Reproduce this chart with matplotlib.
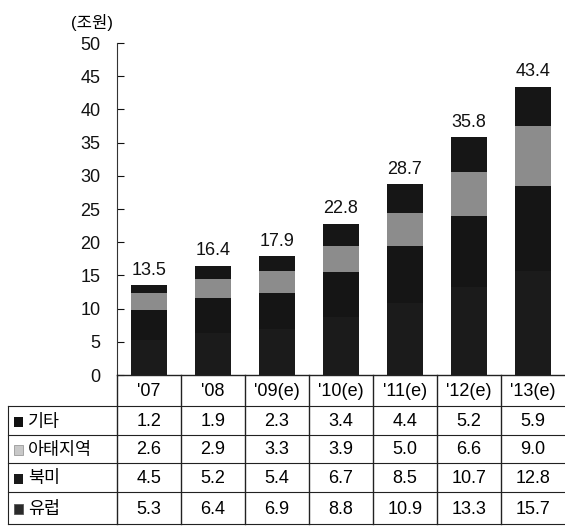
import matplotlib
matplotlib.use("Agg")
import matplotlib.pyplot as plt
from matplotlib.patches import Rectangle

plt.rcParams['font.family'] = ['Liberation Sans', 'Noto Sans CJK KR']

years = ["'07", "'08", "'09(e)", "'10(e)", "'11(e)", "'12(e)", "'13(e)"]
europe = [5.3, 6.4, 6.9, 8.8, 10.9, 13.3, 15.7]
north_america = [4.5, 5.2, 5.4, 6.7, 8.5, 10.7, 12.8]
asia_pacific = [2.6, 2.9, 3.3, 3.9, 5.0, 6.6, 9.0]
others = [1.2, 1.9, 2.3, 3.4, 4.4, 5.2, 5.9]
totals = [13.5, 16.4, 17.9, 22.8, 28.7, 35.8, 43.4]
yticks = [0, 5, 10, 15, 20, 25, 30, 35, 40, 45, 50]

series = [
    ("유럽", europe, "#1b1b1b"),
    ("북미", north_america, "#151515"),
    ("아태지역", asia_pacific, "#8c8c8c"),
    ("기타", others, "#161616"),
]

W, H = 565, 528
fig = plt.figure(figsize=(W / 100, H / 100), dpi=100)

# pixel layout
L, R = 117, 565
y_top, y_zero = 43, 375
ax = fig.add_axes([L / W, 1 - y_zero / H, (R - L) / W, (y_zero - y_top) / H])

x = list(range(len(years)))
bottom = [0.0] * len(years)
for name, vals, col in series:
    ax.bar(x, vals, width=0.55, bottom=bottom, color=col, edgecolor='none', zorder=2)
    bottom = [b + v for b, v in zip(bottom, vals)]

for xi, t in zip(x, totals):
    ax.text(xi, t + 1.0, f"{t:.1f}", ha='center', va='bottom', fontsize=13, color='#111')

ax.set_xlim(-0.5, len(years) - 0.5)
ax.set_ylim(0, 50)
ax.set_yticks(yticks)
ax.set_yticklabels([str(v) for v in yticks], fontsize=13)
ax.tick_params(axis='y', direction='in', length=5, width=0.8, pad=12, colors='#111')
ax.tick_params(axis='x', bottom=False, labelbottom=False)
for s in ['top', 'right']:
    ax.spines[s].set_visible(False)
ax.spines['left'].set_linewidth(0.8)
ax.spines['left'].set_color('#333')
ax.spines['bottom'].set_linewidth(1.0)
ax.spines['bottom'].set_color('#222')
ax.text(-0.056, 1.035, "(조원)", transform=ax.transAxes, ha='center', va='bottom',
        fontsize=12, fontweight='medium')

# data table below the bars
t_top, t_bot = 375, 524
tax = fig.add_axes([L / W, 1 - t_bot / H, (R - L) / W, (t_bot - t_top) / H])
tax.set_xlim(-0.5, len(years) - 0.5)
tax.set_ylim(t_bot - t_top, 0)
tax.axis('off')

col_w = (R - L) / len(years)
left_edge = -0.5 - (L - 8) / col_w
row_edges = [0, 31, 60, 88, 117, 149]
rows = [("기타", others), ("아태지역", asia_pacific), ("북미", north_america), ("유럽", europe)]
lc = '#222'

# header
for xi, yr in zip(x, years):
    tax.text(xi, (row_edges[0] + row_edges[1]) / 2 + 1, yr, ha='center', va='center', fontsize=13)

# horizontal rules
for ye in row_edges[1:]:
    tax.plot([left_edge, len(years) - 0.5], [ye, ye], color=lc, lw=0.8, clip_on=False)
# vertical rules
for k in range(len(years)):
    tax.plot([k - 0.5, k - 0.5], [0, row_edges[-1]], color=lc, lw=1.0, clip_on=False)
tax.plot([left_edge, left_edge], [row_edges[1], row_edges[-1]], color=lc, lw=0.8, clip_on=False)

swatch = {"기타": ("#111", 'none'), "아태지역": ("#c8c8c8", '#999'),
          "북미": ("#1a1a1a", 'none'), "유럽": ("#2a2a2a", '#555')}
px = 1 / col_w
for i, (name, vals) in enumerate(rows):
    yc = (row_edges[i + 1] + row_edges[i + 2]) / 2 + 1
    fc, ec = swatch[name]
    tax.add_patch(Rectangle((left_edge + 6 * px, yc - 5), 9 * px, 10, facecolor=fc,
                            edgecolor=ec, lw=0.6, clip_on=False))
    tax.text(left_edge + 20 * px, yc, name, ha='left', va='center', fontsize=12.5,
             fontweight='medium', clip_on=False)
    for xi, v in zip(x, vals):
        tax.text(xi, yc, f"{v:.1f}", ha='center', va='center', fontsize=13)

fig.savefig("out.png", dpi=100)
